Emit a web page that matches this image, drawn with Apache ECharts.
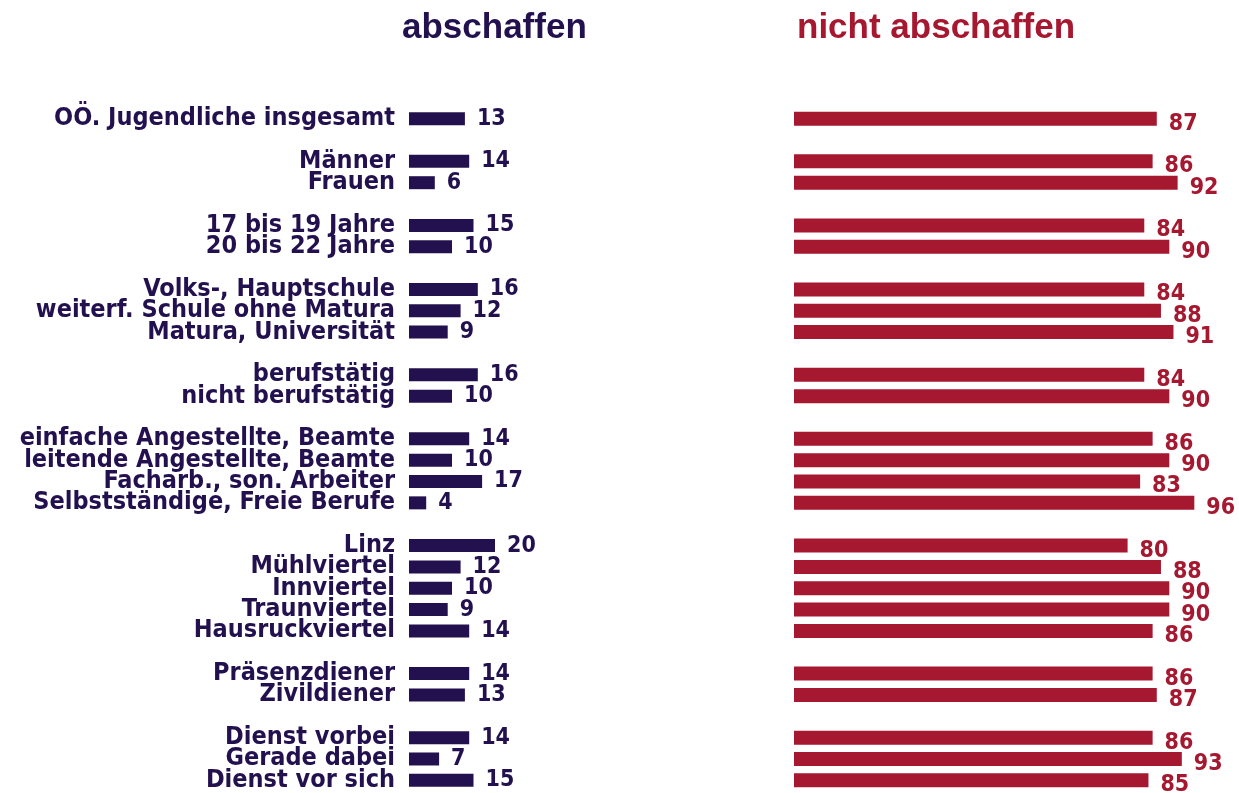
<!DOCTYPE html>
<html>
<head>
<meta charset="utf-8">
<script src="https://cdn.jsdelivr.net/npm/echarts@6/dist/echarts.min.js"></script>
<style>
    html, body { margin: 0; padding: 0; background: #fff; }
    #divChart { width: 1239px; height: 793px; }
</style>
</head>
<body>
<div id="divChart"></div>
<script>
    // Kategorien (leere Einträge = Abstand zwischen Gruppen)
    var categories = [
        'OÖ. Jugendliche insgesamt', ' ',
        'Männer', 'Frauen', '  ',
        '17 bis 19 Jahre', '20 bis 22 Jahre', '   ',
        'Volks-, Hauptschule', 'weiterf. Schule ohne Matura', 'Matura, Universität', '    ',
        'berufstätig', 'nicht berufstätig', '     ',
        'einfache Angestellte, Beamte', 'leitende Angestellte, Beamte', 'Facharb., son. Arbeiter', 'Selbstständige, Freie Berufe', '      ',
        'Linz', 'Mühlviertel', 'Innviertel', 'Traunviertel', 'Hausruckviertel', '       ',
        'Präsenzdiener', 'Zivildiener', '        ',
        'Dienst vorbei', 'Gerade dabei', 'Dienst vor sich'
    ];
    var abschaffen = [13, null, 14, 6, null, 15, 10, null, 16, 12, 9, null, 16, 10, null, 14, 10, 17, 4, null, 20, 12, 10, 9, 14, null, 14, 13, null, 14, 7, 15];
    var nichtAbschaffen = [87, null, 86, 92, null, 84, 90, null, 84, 88, 91, null, 84, 90, null, 86, 90, 83, 96, null, 80, 88, 90, 90, 86, null, 86, 87, null, 86, 93, 85];

    var navy = '#23104f';
    var red = '#a51830';
    var font = 'DejaVu Sans Condensed';

    var myChart = echarts.init(document.getElementById('divChart'));
    var option = {
        animation: false,
        title: [
            { text: 'abschaffen', left: 397, top: 6, textStyle: { color: navy, fontSize: 35, fontWeight: 'bold', fontFamily: 'Liberation Sans' } },
            { text: 'nicht abschaffen', left: 792, top: 6, textStyle: { color: red, fontSize: 35, fontWeight: 'bold', fontFamily: 'Liberation Sans' } }
        ],
        grid: [
            { left: 409, top: 108, width: 430, height: 683 },
            { left: 794, top: 108, width: 417, height: 683 }
        ],
        xAxis: [
            { gridIndex: 0, type: 'value', min: 0, max: 100, show: false },
            { gridIndex: 1, type: 'value', min: 0, max: 100, show: false }
        ],
        yAxis: [
            {
                gridIndex: 0, type: 'category', inverse: true, data: categories,
                axisLine: { show: false }, axisTick: { show: false },
                axisLabel: { interval: 0, color: navy, fontSize: 25, fontWeight: 'bold', fontFamily: font, margin: 14 }
            },
            {
                gridIndex: 1, type: 'category', inverse: true, data: categories,
                axisLine: { show: false }, axisTick: { show: false }, axisLabel: { show: false }
            }
        ],
        series: [
            {
                name: 'abschaffen', type: 'bar', xAxisIndex: 0, yAxisIndex: 0,
                data: abschaffen, barWidth: 13,
                itemStyle: { color: navy },
                label: { show: true, position: 'right', distance: 12, color: navy, fontSize: 23, fontWeight: 'bold', fontFamily: font }
            },
            {
                name: 'nicht abschaffen', type: 'bar', xAxisIndex: 1, yAxisIndex: 1,
                data: nichtAbschaffen, barWidth: 14,
                itemStyle: { color: red },
                label: { show: true, position: 'right', distance: 12, offset: [0, 5], color: red, fontSize: 23, fontWeight: 'bold', fontFamily: font }
            }
        ]
    };
    myChart.setOption(option);
</script>
</body>
</html>
